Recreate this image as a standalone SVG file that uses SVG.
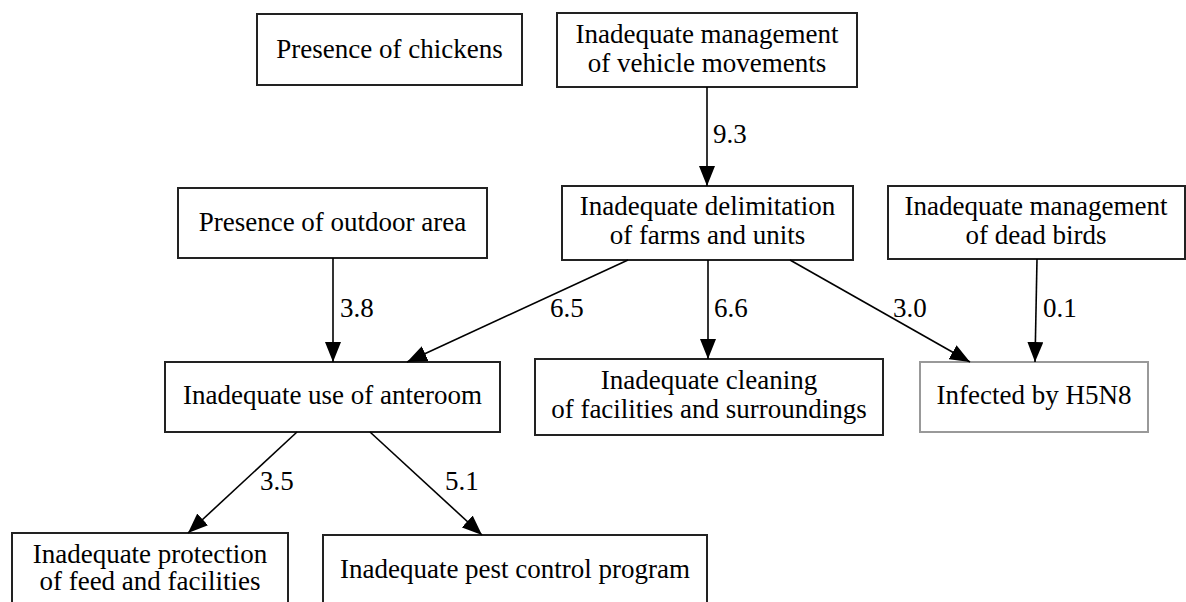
<svg xmlns="http://www.w3.org/2000/svg" width="1186" height="602" viewBox="0 0 1186 602">
  <defs>
    <marker id="arrow" markerWidth="20" markerHeight="16" refX="20" refY="8" orient="auto" markerUnits="userSpaceOnUse">
      <path d="M0,0 L20,8 L0,16 Z" fill="#000"/>
    </marker>
  </defs>
  <style>
    .box { fill: #fff; stroke: #222; stroke-width: 2; }
    .box.grey { stroke: #999; }
    text { font-family: "Liberation Serif", "Times New Roman", serif; font-size: 27px; fill: #000; }
    .node text { text-anchor: middle; }
    .edge { stroke: #000; stroke-width: 1.6; fill: none; marker-end: url(#arrow); }
  </style>
  <rect width="1186" height="602" fill="#fff"/>

  <g id="chickens" class="node">
    <rect class="box" x="257" y="14" width="265" height="71"/>
    <text x="389.5" y="58">Presence of chickens</text>
  </g>
  <g id="vehicles" class="node">
    <rect class="box" x="557" y="13" width="300" height="74"/>
    <text x="707" y="43">Inadequate management</text>
    <text x="707" y="72">of vehicle movements</text>
  </g>
  <g id="outdoor" class="node">
    <rect class="box" x="178" y="188" width="309" height="70"/>
    <text x="332.5" y="231">Presence of outdoor area</text>
  </g>
  <g id="delimitation" class="node">
    <rect class="box" x="562" y="186" width="291" height="74"/>
    <text x="707.5" y="215">Inadequate delimitation</text>
    <text x="707.5" y="244">of farms and units</text>
  </g>
  <g id="deadbirds" class="node">
    <rect class="box" x="888" y="186" width="297" height="73"/>
    <text x="1036" y="215">Inadequate management</text>
    <text x="1036" y="244">of dead birds</text>
  </g>
  <g id="anteroom" class="node">
    <rect class="box" x="165" y="362" width="335" height="70"/>
    <text x="332.5" y="404">Inadequate use of anteroom</text>
  </g>
  <g id="cleaning" class="node">
    <rect class="box" x="535" y="359" width="348" height="76"/>
    <text x="709" y="389">Inadequate cleaning</text>
    <text x="709" y="418">of facilities and surroundings</text>
  </g>
  <g id="h5n8" class="node">
    <rect class="box grey" x="920" y="362" width="228" height="70"/>
    <text x="1034" y="404">Infected by H5N8</text>
  </g>
  <g id="protection" class="node">
    <rect class="box" x="12" y="533" width="276" height="80"/>
    <text x="150" y="563">Inadequate protection</text>
    <text x="150" y="590">of feed and facilities</text>
  </g>
  <g id="pest" class="node">
    <rect class="box" x="323" y="535" width="384" height="80"/>
    <text x="515" y="578">Inadequate pest control program</text>
  </g>

  <g id="connectors">
    <line class="edge" x1="707" y1="87" x2="707" y2="186"/>
    <text x="713" y="143">9.3</text>
    <line class="edge" x1="333" y1="258" x2="333" y2="362"/>
    <text x="340" y="317">3.8</text>
    <line class="edge" x1="628" y1="260" x2="407" y2="362"/>
    <text x="550" y="317">6.5</text>
    <line class="edge" x1="708" y1="260" x2="708" y2="359"/>
    <text x="714" y="317">6.6</text>
    <line class="edge" x1="790" y1="260" x2="970" y2="362"/>
    <text x="893" y="317">3.0</text>
    <line class="edge" x1="1037" y1="259" x2="1035" y2="362"/>
    <text x="1043" y="317">0.1</text>
    <line class="edge" x1="297" y1="432" x2="188" y2="533"/>
    <text x="260" y="490">3.5</text>
    <line class="edge" x1="370" y1="432" x2="482" y2="535"/>
    <text x="445" y="490">5.1</text>
  </g>
</svg>
